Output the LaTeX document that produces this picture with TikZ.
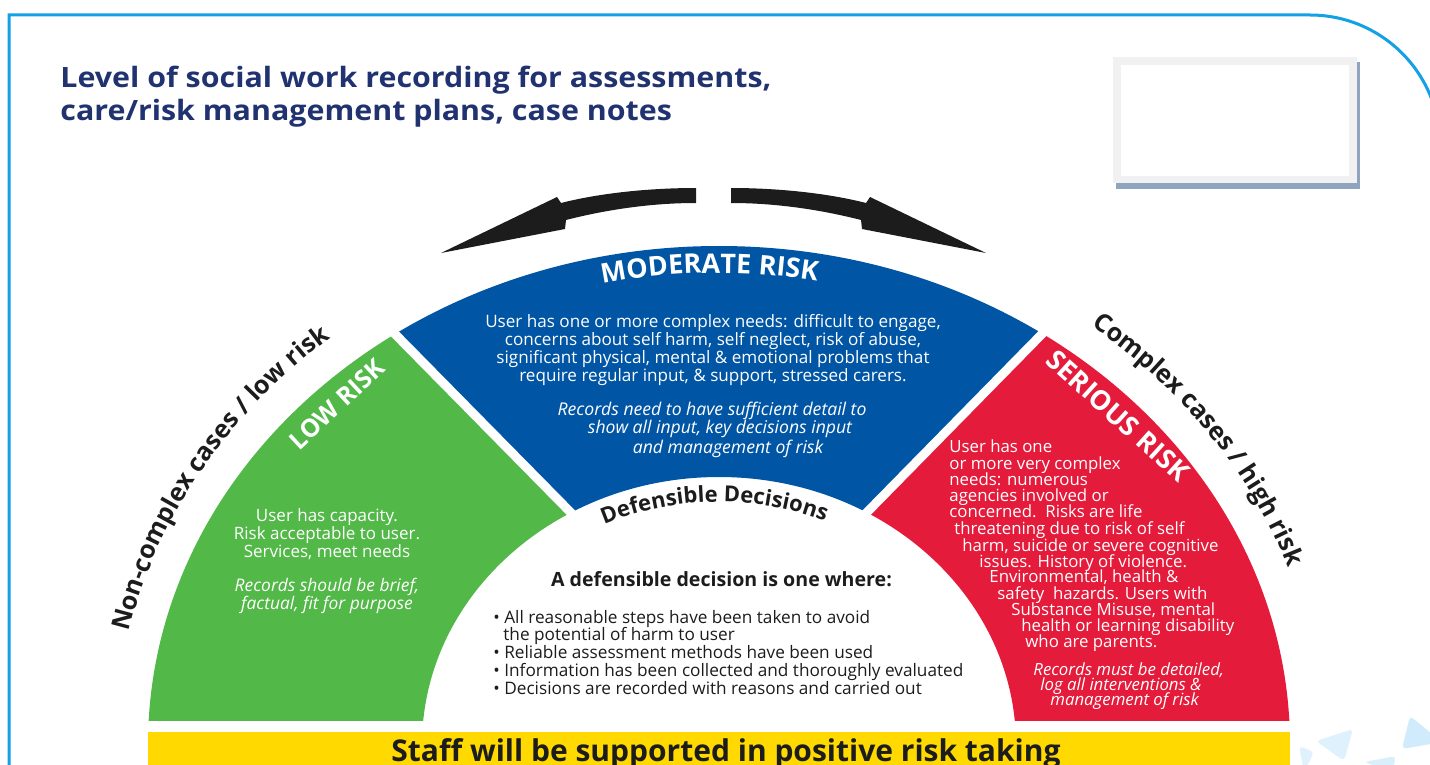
\documentclass[tikz,border=0pt]{standalone}
\usepackage{fontspec}
\setmainfont{Open Sans}
\usetikzlibrary{positioning,decorations.text}

\definecolor{frameBlue}{RGB}{20,160,228}
\definecolor{titleNavy}{RGB}{33,50,112}
\definecolor{lowGreen}{RGB}{82,184,72}
\definecolor{moderateBlue}{RGB}{0,86,165}
\definecolor{seriousRed}{RGB}{228,27,58}
\definecolor{staffYellow}{RGB}{255,217,0}
\definecolor{boxGrey}{RGB}{241,241,241}
\definecolor{boxShadow}{RGB}{143,165,191}
\definecolor{decoBlue}{RGB}{208,235,251}
\definecolor{inkBlack}{RGB}{28,28,28}

\newcommand{\fsz}[2]{\fontsize{#1}{#2}\selectfont}

\begin{document}
\begin{tikzpicture}[
  x=0.5pt, y=-0.5pt,
  titleText/.style={font=\fsz{14}{16}\bfseries, text=titleNavy, inner sep=0pt, anchor=base west},
  bodyText/.style={font=\fsz{8.5}{9}, text=white, inner sep=0pt, align=center},
  redText/.style={font=\fsz{8.4}{9}, text=white, inner sep=0pt, anchor=base west},
  bulletText/.style={font=\fsz{8.6}{9}, text=inkBlack, inner sep=0pt, anchor=base west}
]
	\tikzstyle{ringHead} = [font=\bfseries, text=white, inner sep=0pt]
	\tikzstyle{bigArrow} = [fill=inkBlack]
	\tikzstyle{gapLine} = [white, line width=4.5pt]

	\useasboundingbox (0,0) rectangle (1430,765);

	% frame and empty box
	\draw[frameBlue, line width=1.5pt] (9,775) -- (9,15) -- (1310,15) .. controls (1381.8,15) and (1440,73.2) .. (1440,145);
	\fill[boxShadow] (1116,62) rectangle (1360,189);
	\fill[boxGrey] (1113,57) rectangle (1357,183);
	\fill[white] (1121,65) rectangle (1349,176);

	% faint logo shapes
	\fill[decoBlue, rounded corners=2pt] (1410,716) -- (1442,742) -- (1402,749) -- cycle;
	\fill[decoBlue!70, rounded corners=2pt] (1316,741) -- (1353,729) -- (1344,761) -- cycle;
	\fill[decoBlue!70, rounded corners=2pt] (1299,746) -- (1314,752) -- (1304,772) -- cycle;
	\fill[decoBlue!80, rounded corners=2pt] (1364,762) -- (1396,756) -- (1392,772) -- cycle;

	\node[titleText] (titleLine1) at (60,88) {\scalebox{1.085}[1]{Level of social work recording for assessments,}};
	\node[titleText] (titleLine2) at (60,120) {\scalebox{1.085}[1]{care/risk management plans, case notes}};

	% arrows
	\fill[bigArrow] (696,188) .. controls (650,188) and (600,193) .. (561,203) -- (557,197) -- (441,253) -- (565,229) -- (566,220) .. controls (605,210) and (650,203) .. (696,203) -- cycle;
	\begin{scope}[shift={(1427,0)}, xscale=-1]
		\fill[bigArrow] (696,188) .. controls (650,188) and (600,193) .. (561,203) -- (557,197) -- (441,253) -- (565,229) -- (566,220) .. controls (605,210) and (650,203) .. (696,203) -- cycle;
	\end{scope}

	% ring
	\begin{scope}
		\clip (0,0) rectangle (1430,720);
		\begin{scope}
			\clip (719,663) -- (236,173) -- (0,173) -- (0,765) -- (719,765) -- cycle;
			\fill[lowGreen, even odd rule] (719,745) ellipse [x radius=285.5pt, y radius=249.5pt] (719,745) ellipse [x radius=148.5pt, y radius=134pt];
		\end{scope}
		\begin{scope}
			\clip (719,663) -- (236,173) -- (1200,173) -- cycle;
			\fill[moderateBlue, even odd rule] (719,745) ellipse [x radius=285.5pt, y radius=249.5pt] (719,745) ellipse [x radius=148.5pt, y radius=134pt];
		\end{scope}
		\begin{scope}
			\clip (719,663) -- (1200,173) -- (1430,173) -- (1430,765) -- (719,765) -- cycle;
			\fill[seriousRed, even odd rule] (719,745) ellipse [x radius=285.5pt, y radius=249.5pt] (719,745) ellipse [x radius=148.5pt, y radius=134pt];
		\end{scope}
		\draw[gapLine] (588.6,530.6) -- (373.4,312.1);
		\draw[gapLine] (848.6,531) -- (1062.4,313.2);
	\end{scope}

	% curved labels
	\path[decorate, decoration={text along path, text align=center,
		text={|\fsz{13.5}{16}\bfseries\color{white}|MODERATE RISK}}]
		plot[domain=0:50, samples=51] ({719+545*cos(116-\x)}, {745-472*sin(116-\x)});
	\path[decorate, decoration={text along path, text align=center,
		text={|\fsz{12.6}{15}\bfseries\color{inkBlack}|Non-complex cases / low risk}}]
		plot[domain=0:44, samples=45] ({719+604*cos(171-\x)}, {745-532*sin(171-\x)});
	\path[decorate, decoration={text along path, text align=center,
		text={|\fsz{12.6}{15}\bfseries\color{inkBlack}|Complex cases / high risk}}]
		plot[domain=0:44, samples=45] ({719+604*cos(57.5-\x)}, {745-532*sin(57.5-\x)});
	\path[decorate, decoration={text along path, text align=center,
		text={|\fsz{11}{13}\bfseries\color{inkBlack}|Defensible Decisions}}]
		plot[domain=0:60, samples=61] ({719+272*cos(121-\x)}, {745-243*sin(121-\x)});

	\node[ringHead, rotate=43, font=\fsz{12.5}{14}\bfseries] (lowRiskTitle) at (337,404) {LOW RISK};
	\node[ringHead, rotate=-42, font=\fsz{13.5}{16}\bfseries] (seriousRiskTitle) at (1118,416) {SERIOUS RISK};

	% low risk
	\node[bodyText] (lowRiskText) at (327,534) {User has capacity.\\Risk acceptable to user.\\Services, meet needs};
	\node[bodyText, font=\fsz{8.7}{9}\itshape] (lowRiskRecords) at (327,596) {Records should be brief,\\factual, fit for purpose};

	% moderate risk
	\node[bodyText, font=\fsz{8.55}{9}] (moderateText) at (713,350) {User has one or more complex needs: difficult to engage,\\concerns about self harm, self neglect, risk of abuse,\\significant physical, mental \& emotional problems that\\require regular input, \& support, stressed carers.};
	\node[bodyText, font=\fsz{8.8}{8.8}\itshape] (moderateRecords) at (712,430) {Records need to have sufficient detail to\\\hspace*{8pt}show all input, key decisions input\\\hspace*{16pt}and management of risk};

	% serious risk
	\node[redText] (seriousLine1) at (949,452) {User has one};
	\node[redText] (seriousLine2) at (949,469) {or more very complex};
	\node[redText] (seriousLine3) at (949,485) {needs: numerous};
	\node[redText] (seriousLine4) at (949,501) {agencies involved or};
	\node[redText] (seriousLine5) at (949,517) {concerned.\ \ Risks are life};
	\node[redText] (seriousLine6) at (954,534) {threatening due to risk of self};
	\node[redText] (seriousLine7) at (962,551) {harm, suicide or severe cognitive};
	\node[redText] (seriousLine8) at (979,567) {issues. History of violence.};
	\node[redText] (seriousLine9) at (989,582) {Environmental, health \&};
	\node[redText] (seriousLine10) at (997,599) {safety\ \ hazards. Users with};
	\node[redText] (seriousLine11) at (1011,615) {Substance Misuse, mental};
	\node[redText] (seriousLine12) at (1021,631) {health or learning disability};
	\node[redText] (seriousLine13) at (1025,647) {who are parents.};
	\node[redText, font=\fsz{8.4}{9}\itshape] (seriousRecords1) at (1033,675) {Records must be detailed,};
	\node[redText, font=\fsz{8.4}{9}\itshape] (seriousRecords2) at (1040,690) {log all interventions \&};
	\node[redText, font=\fsz{8.4}{9}\itshape] (seriousRecords3) at (1050,705) {management of risk};

	% defensible decisions
	\node[font=\fsz{9.8}{12}\bfseries, text=inkBlack, inner sep=0pt, anchor=base] (defensibleHead) at (721.5,586) {A defensible decision is one where:};
	\node[bulletText] (bullet1) at (493,623) {\textbullet\ All reasonable steps have been taken to avoid};
	\node[bulletText] (bullet1b) at (503,640) {the potential of harm to user};
	\node[bulletText] (bullet2) at (493,658) {\textbullet\ Reliable assessment methods have been used};
	\node[bulletText] (bullet3) at (493,676) {\textbullet\ Information has been collected and thoroughly evaluated};
	\node[bulletText] (bullet4) at (493,694) {\textbullet\ Decisions are recorded with reasons and carried out};

	% bottom bar
	\fill[staffYellow] (148,732) rectangle (1290,770);
	\node[font=\fsz{15}{18}\bfseries, text=inkBlack, inner sep=0pt, anchor=base] (staffLine) at (726,761) {Staff will be supported in positive risk taking};
\end{tikzpicture}
\end{document}
